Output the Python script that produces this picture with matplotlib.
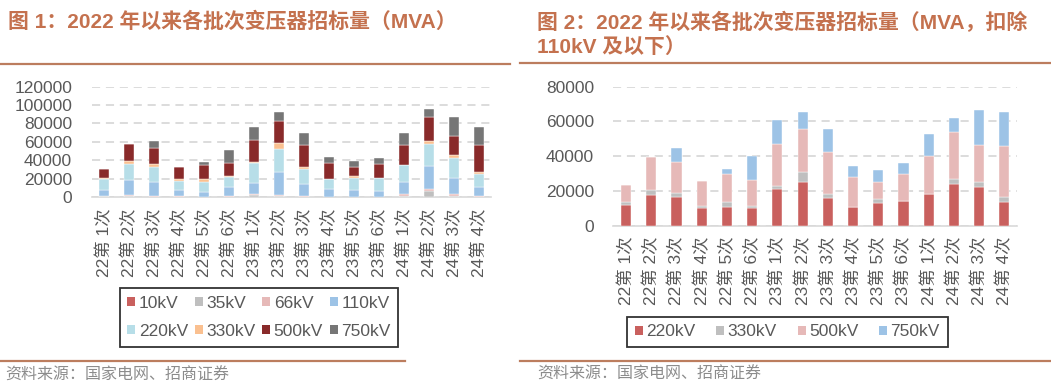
import numpy as np
import matplotlib.pyplot as plt
from matplotlib.patches import Patch
from matplotlib.lines import Line2D

plt.rcParams['font.family'] = ['Liberation Sans', 'Noto Sans CJK SC', 'DejaVu Sans']

batches = ['22第 1次', '22第 2次', '22第 3次', '22第 4次', '22第 5次', '22第 6次',
           '23第 1次', '23第 2次', '23第 3次', '23第 4次', '23第 5次', '23第 6次',
           '24第 1次', '24第 2次', '24第 3次', '24第 4次']

# MVA
kv10 = [300, 300, 200, 200, 100, 200, 500, 300, 200, 100, 100, 100, 400, 300, 500, 100]
kv35 = [400, 800, 300, 200, 200, 300, 1500, 800, 300, 200, 200, 200, 1200, 6000, 1000, 200]
kv66 = [300, 800, 300, 200, 200, 400, 1600, 700, 300, 200, 200, 200, 1400, 2000, 2000, 300]
kv110 = [6600, 16600, 15600, 7000, 5000, 10000, 11700, 25500, 13400, 8600, 6800, 6000, 13400, 25500, 16900, 10300]
kv220 = [11900, 17600, 16700, 10200, 10900, 10400, 21300, 25100, 16100, 10700, 13000, 14200, 18000, 24200, 22300, 13800]
kv330 = [1500, 2900, 2300, 1300, 2900, 1100, 1700, 6000, 1900, 300, 2300, 300, 300, 2500, 2600, 2500]
kv500 = [9800, 19000, 17500, 14000, 15900, 14600, 23800, 24700, 24400, 17000, 9600, 15000, 22000, 27000, 21300, 29400]
kv750 = [0, 0, 8200, 0, 2900, 14000, 14200, 9800, 13200, 6300, 7100, 6400, 12500, 8500, 20600, 19700]

left_series = [('10kV', kv10, '#C9605E'), ('35kV', kv35, '#BFBFBF'),
               ('66kV', kv66, '#E6B9B8'), ('110kV', kv110, '#9DC3E6'),
               ('220kV', kv220, '#B7DEE8'), ('330kV', kv330, '#FAC090'),
               ('500kV', kv500, '#892A2A'), ('750kV', kv750, '#767676')]
right_series = [('220kV', kv220, '#C9605E'), ('330kV', kv330, '#BFBFBF'),
                ('500kV', kv500, '#E6B9B8'), ('750kV', kv750, '#9DC3E6')]

W, H = 1051, 391
fig = plt.figure(figsize=(W / 100, H / 100), dpi=100)

title_c = '#C4714E'
rule_c = '#BC7D5E'
text_c = '#595959'


def px(x0, y0, x1, y1):
    return [x0 / W, 1 - y1 / H, (x1 - x0) / W, (y1 - y0) / H]


def stacked(ax, series, ymax, step):
    x = np.arange(len(batches))
    bottom = np.zeros(len(batches))
    for name, vals, col in series:
        v = np.array(vals, dtype=float)
        ax.bar(x, v, 0.4, bottom=bottom, color=col, edgecolor='white', linewidth=0.3, zorder=3)
        bottom += v
    ax.set_xlim(-0.5, len(batches) - 0.5)
    ax.set_ylim(0, ymax)
    ax.set_yticks(np.arange(0, ymax + 1, step))
    ax.set_xticks(x)
    ax.set_xticklabels(batches, rotation=90, fontsize=12.5, color=text_c)
    ax.tick_params(axis='both', length=0, labelsize=12.5, colors=text_c)
    ax.tick_params(axis='x', pad=8)
    ax.tick_params(axis='y', pad=14)
    for s in ['top', 'right', 'left']:
        ax.spines[s].set_visible(False)
    ax.spines['bottom'].set_color('#D9D9D9')
    ax.spines['bottom'].set_linewidth(1.2)
    ax.yaxis.grid(True, color='#D9D9D9', linewidth=1.3, linestyle=(0, (4.5, 3.2)), zorder=0)
    ax.set_axisbelow(True)


ax1 = fig.add_axes(px(91.5, 86.7, 491.5, 197))
stacked(ax1, left_series, 120000, 20000)
ax2 = fig.add_axes(px(613.4, 86.7, 1017, 225.7))
stacked(ax2, right_series, 80000, 20000)

# titles
fig.text(8 / W, 1 - 22 / H, '图 1：2022 年以来各批次变压器招标量（MVA）',
         fontsize=15, fontweight='bold', color=title_c, va='center', ha='left')
fig.text(537 / W, 1 - 22 / H, '图 2：2022 年以来各批次变压器招标量（MVA，扣除',
         fontsize=15, fontweight='bold', color=title_c, va='center', ha='left')
fig.text(537 / W, 1 - 47 / H, '110kV 及以下）',
         fontsize=15, fontweight='bold', color=title_c, va='center', ha='left')

# rules
for x0, x1, y in [(0, 510, 64), (520, 1051, 63), (0, 405, 361), (520, 1051, 361)]:
    fig.add_artist(Line2D([x0 / W, x1 / W], [1 - y / H, 1 - y / H], color=rule_c, linewidth=1.6))

# sources
fig.text(5 / W, 1 - 375 / H, '资料来源：国家电网、招商证券', fontsize=11.5, color='#8C8C8C',
         va='center', ha='left', family=['Noto Sans CJK SC'])
fig.text(537 / W, 1 - 374 / H, '资料来源：国家电网、招商证券', fontsize=11.5, color='#8C8C8C',
         va='center', ha='left', family=['Noto Sans CJK SC'])


# legends, filled row by row like the original
def legend(series, ncol, cx, cy, colsp):
    handles = [Patch(facecolor=c, edgecolor='none', label=n) for n, _, c in series]
    nrow = int(np.ceil(len(handles) / ncol))
    order = [r * ncol + c for c in range(ncol) for r in range(nrow) if r * ncol + c < len(handles)]
    handles = [handles[i] for i in order]
    leg = fig.legend(handles=handles, ncol=ncol, loc='center',
                     bbox_to_anchor=(cx / W, 1 - cy / H), frameon=True, fancybox=False,
                     edgecolor='black', fontsize=12.5, handlelength=0.45, handleheight=0.45,
                     handletextpad=0.2, columnspacing=colsp, labelspacing=0.75,
                     borderpad=0.45, borderaxespad=0)
    leg.get_frame().set_linewidth(1.3)
    for t in leg.get_texts():
        t.set_color(text_c)
    return leg


legend(left_series, 4, 259, 317.5, 0.4)
legend(right_series, 4, 787.5, 332, 1.2)

fig.savefig('out.png', dpi=100)
